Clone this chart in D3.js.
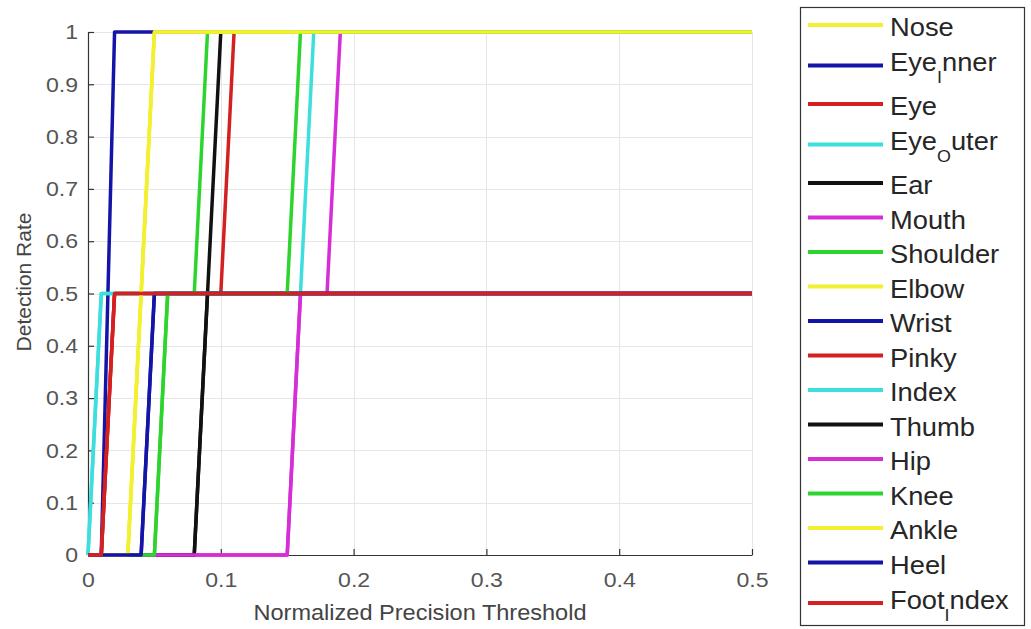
<!DOCTYPE html>
<html><head><meta charset="utf-8">
<script src="https://cdn.jsdelivr.net/npm/d3@7"></script>
<style>html,body{margin:0;padding:0;background:#fff;} svg{display:block;}</style>
</head><body>
<svg id="chart" width="1031" height="629"></svg>
<script>
// ---- data ----
const names  = ["Nose","Eye_Inner","Eye","Eye_Outer","Ear","Mouth","Shoulder","Elbow","Wrist",
                "Pinky","Index","Thumb","Hip","Knee","Ankle","Heel","Foot_Index"];
const colors = ["#f2f030","#1414a8","#d42020","#3cdede","#111111","#d62ed6","#2ed42e","#f2f030","#1414a8",
                "#d42020","#3cdede","#111111","#d62ed6","#2ed42e","#f2f030","#1414a8","#d42020"];
const xTicks = [0,0.1,0.2,0.3,0.4,0.5];
const yTicks = [0,0.1,0.2,0.3,0.4,0.5,0.6,0.7,0.8,0.9,1];

// thresholds (x) and detection rates (y) at each breakpoint, per keypoint
const noseX      = [0,0.03,0.05,0.5],                 noseY      = [0,0,1,1];
const eyeInnerX  = [0,0.01,0.02,0.5],                 eyeInnerY  = [0,0,1,1];
const eyeX       = [0,0.01,0.02,0.10,0.11,0.5],       eyeY       = [0,0,0.5,0.5,1,1];
const eyeOuterX  = [0,0.01,0.16,0.17,0.5],            eyeOuterY  = [0,0.5,0.5,1,1];
const earX       = [0,0.08,0.10,0.5],                 earY       = [0,0,1,1];
const mouthX     = [0,0.15,0.16,0.18,0.19,0.5],       mouthY     = [0,0,0.5,0.5,1,1];
const shoulderX  = [0,0.05,0.06,0.08,0.09,0.5],       shoulderY  = [0,0,0.5,0.5,1,1];
const elbowX     = [0,0.03,0.05,0.5],                 elbowY     = [0,0,1,1];
const wristX     = [0,0.04,0.05,0.5],                 wristY     = [0,0,0.5,0.5];
const pinkyX     = [0,0.01,0.02,0.5],                 pinkyY     = [0,0,0.5,0.5];
const indexX     = [0,0.01,0.5],                      indexY     = [0,0.5,0.5];
const thumbX     = [0,0.08,0.09,0.5],                 thumbY     = [0,0,0.5,0.5];
const hipX       = [0,0.15,0.16,0.5],                 hipY       = [0,0,0.5,0.5];
const kneeX      = [0,0.05,0.06,0.15,0.16,0.5],       kneeY      = [0,0,0.5,0.5,1,1];
const ankleX     = [0,0.03,0.05,0.5],                 ankleY     = [0,0,1,1];
const heelX      = [0,0.04,0.05,0.5],                 heelY      = [0,0,0.5,0.5];
const footIndexX = [0,0.01,0.02,0.5],                 footIndexY = [0,0,0.5,0.5];

const xsList = [noseX,eyeInnerX,eyeX,eyeOuterX,earX,mouthX,shoulderX,elbowX,wristX,
                pinkyX,indexX,thumbX,hipX,kneeX,ankleX,heelX,footIndexX];
const ysList = [noseY,eyeInnerY,eyeY,eyeOuterY,earY,mouthY,shoulderY,elbowY,wristY,
                pinkyY,indexY,thumbY,hipY,kneeY,ankleY,heelY,footIndexY];

const series = names.map((n,i)=>({name:n, color:colors[i], pts:d3.zip(xsList[i], ysList[i])}));

// ---- layout ----
const svg = d3.select("#chart");
const FONT = "'Liberation Sans', Arial, Helvetica, sans-serif";
const x = d3.scaleLinear().domain([0,0.5]).range([88,752]);
const y = d3.scaleLinear().domain([0,1]).range([555,32]);

// grid
const grid = svg.append("g").attr("stroke","#e6e6e6").attr("stroke-width",1);
grid.selectAll("line.v").data(xTicks.slice(1)).join("line")
  .attr("x1",d=>Math.round(x(d))+0.5).attr("x2",d=>Math.round(x(d))+0.5)
  .attr("y1",y(0)).attr("y2",y(1));
grid.selectAll("line.h").data(yTicks.slice(1)).join("line")
  .attr("y1",d=>Math.round(y(d))+0.5).attr("y2",d=>Math.round(y(d))+0.5)
  .attr("x1",x(0)).attr("x2",x(0.5));

const fmt = d => String(+d.toFixed(1));

// axes
const gx = svg.append("g").attr("transform",`translate(0,${y(0)})`)
  .call(d3.axisBottom(x).tickValues(xTicks).tickFormat(fmt).tickSize(-6).tickSizeOuter(0).tickPadding(17));
const gy = svg.append("g").attr("transform",`translate(${x(0)},0)`)
  .call(d3.axisLeft(y).tickValues(yTicks).tickFormat(fmt).tickSize(-6).tickSizeOuter(0).tickPadding(9));
[gx,gy].forEach(g=>{
  g.select(".domain").attr("stroke","#333").attr("stroke-width",1.2);
  g.selectAll(".tick line").attr("stroke","#333").attr("stroke-width",1.2);
  g.selectAll(".tick text").attr("font-family",FONT).attr("font-size",21).attr("fill","#555")
   .attr("transform","scale(1.1,1)");
});

// axis titles
svg.append("text").attr("font-family",FONT).attr("font-size",22).attr("fill","#444")
  .attr("text-anchor","middle").attr("transform",`translate(${(x(0)+x(0.5))/2},620) scale(1.07,1)`)
  .text("Normalized Precision Threshold");
svg.append("text").attr("font-family",FONT).attr("font-size",21).attr("fill","#444")
  .attr("text-anchor","middle").attr("transform",`translate(31,282) rotate(-90)`)
  .text("Detection Rate");

// lines
const line = d3.line().x(d=>x(d[0])).y(d=>y(d[1]));
svg.append("g").selectAll("path").data(series).join("path")
  .attr("d",d=>line(d.pts)).attr("fill","none").attr("stroke",d=>d.color)
  .attr("stroke-width",3.5).attr("stroke-linejoin","round").attr("stroke-linecap","butt");

// legend
const lg = svg.append("g");
lg.append("rect").attr("x",800.5).attr("y",7.5).attr("width",224).attr("height",618)
  .attr("fill","#fff").attr("stroke","#333").attr("stroke-width",1.2);
let rowY = 25;
const rows = [];
series.forEach((s,i)=>{
  const hasSub = s.name.includes("_");
  if (i>0) rowY += 34.5 + (hasSub ? 6 : 0);
  rows.push({s, y:rowY, hasSub});
  if (hasSub) rowY += 4;
});
rows.forEach(r=>{
  lg.append("line").attr("x1",808).attr("x2",883).attr("y1",r.y).attr("y2",r.y)
    .attr("stroke",r.s.color).attr("stroke-width",4);
  const base = r.hasSub ? r.y + 5.5 : r.y + 11;
  const t = lg.append("text").attr("font-family",FONT).attr("font-size",26).attr("fill","#262626")
    .attr("transform",`translate(890,${base}) scale(1.05,1)`);
  if (r.hasSub) {
    const [a,b] = r.s.name.split("_");
    t.append("tspan").text(a);
    t.append("tspan").attr("font-size",17).attr("dy",12).text(b[0]);
    t.append("tspan").attr("dy",-12).text(b.slice(1));
  } else {
    t.text(r.s.name);
  }
});
</script>
</body></html>
